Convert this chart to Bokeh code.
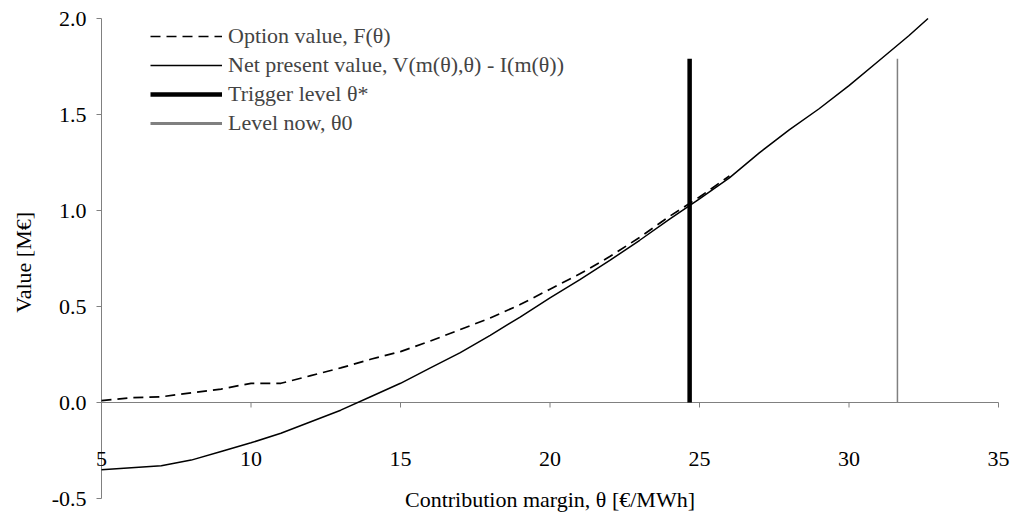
import math
from bokeh.plotting import figure
from bokeh.models import Legend, LegendItem, Range1d
from bokeh.core.properties import value
from bokeh.embed import file_html
from bokeh.resources import INLINE

# ---- data ----
theta_npv = [5, 6, 7, 8, 9, 10, 11, 12, 13, 14, 15, 16, 17, 18, 19, 20, 21, 22, 23, 24,
             25, 26, 27, 28, 29, 30, 31, 32, 33]
npv = [-0.35, -0.34, -0.33, -0.30, -0.255, -0.21, -0.16, -0.10, -0.04, 0.03, 0.10, 0.18,
       0.26, 0.35, 0.445, 0.545, 0.64, 0.74, 0.845, 0.955, 1.06, 1.17, 1.30, 1.42, 1.53,
       1.65, 1.78, 1.91, 2.05]
theta_opt = [5, 6, 7, 8, 9, 10, 11, 12, 13, 14, 15, 16, 17, 18, 19, 20, 21, 22, 23, 24, 25, 26]
option = [0.01, 0.025, 0.03, 0.05, 0.07, 0.10, 0.10, 0.14, 0.18, 0.225, 0.265, 0.32, 0.38,
          0.44, 0.51, 0.59, 0.67, 0.76, 0.86, 0.97, 1.07, 1.18]
theta_star = 24.67
theta_now = 31.62
marker_top = 1.79
x_ticks = [5, 10, 15, 20, 25, 30, 35]
x_tick_labels = ["5", "10", "15", "20", "25", "30", "35"]
y_ticks = [-0.5, 0.0, 0.5, 1.0, 1.5, 2.0]
y_tick_labels = ["-0.5", "0.0", "0.5", "1.0", "1.5", "2.0"]
series_names = ["Option value, F(\u03b8)",
                "Net present value, V(m(\u03b8),\u03b8) - I(m(\u03b8))",
                "Trigger level \u03b8*",
                "Level now, \u03b80"]
x_title = "Contribution margin, \u03b8 [\u20ac/MWh]"
y_title = "Value [M\u20ac]"

FONT = "Liberation Serif"
FS = "22px"
AXIS_GRAY = "#808080"

# ---- layout: the plotting area spans the whole canvas, axes are drawn by hand ----
W, H = 1010, 512
X0, X1 = 5, 35          # axis extent (data)
Y0, Y1 = -0.5, 2.0
PX_L, PX_R = 101, 998   # pixel positions of X0, X1
PX_T, PX_B = 18, 498    # pixel positions of Y1, Y0
sx = (PX_R - PX_L) / (X1 - X0)
sy = (PX_B - PX_T) / (Y1 - Y0)


def clip_top(xs, ys, top):
    """Cut a polyline where it leaves the plot area through the top edge."""
    cx, cy = [], []
    for i, (xv, yv) in enumerate(zip(xs, ys)):
        if yv <= top:
            cx.append(xv)
            cy.append(yv)
        else:
            if i > 0 and ys[i - 1] < top:
                t = (top - ys[i - 1]) / (yv - ys[i - 1])
                cx.append(xs[i - 1] + t * (xv - xs[i - 1]))
                cy.append(top)
            break
    return cx, cy


p = figure(width=W, height=H,
           x_range=Range1d(X0 - PX_L / sx, X0 + (W - PX_L) / sx),
           y_range=Range1d(Y1 - (H - PX_T) / sy, Y1 + PX_T / sy),
           output_backend="svg", toolbar_location=None,
           x_axis_type=None, y_axis_type=None,
           min_border_left=0, min_border_right=0, min_border_top=0, min_border_bottom=0)
p.outline_line_color = None
p.grid.visible = False
p.background_fill_color = "white"
p.border_fill_color = "white"

txt = dict(text_font=value(FONT), text_font_size=FS, text_color="black")

# y axis
p.segment(x0=[X0], y0=[Y0], x1=[X0], y1=[Y1], line_color=AXIS_GRAY, line_width=1)
p.segment(x0=[X0 - 5 / sx] * len(y_ticks), y0=y_ticks, x1=[X0] * len(y_ticks), y1=y_ticks,
          line_color=AXIS_GRAY, line_width=1)
p.text(x=[X0 - 15 / sx] * len(y_ticks), y=y_ticks, text=y_tick_labels,
       text_align="right", text_baseline="middle", **txt)
p.text(x=[X0 - 78 / sx], y=[0.73], text=[y_title], angle=math.pi / 2,
       text_align="center", text_baseline="middle", **txt)

# x axis at y = 0
p.segment(x0=[X0], y0=[0], x1=[X1], y1=[0], line_color=AXIS_GRAY, line_width=1)
p.segment(x0=x_ticks, y0=[0] * len(x_ticks), x1=x_ticks, y1=[-5 / sy] * len(x_ticks),
          line_color=AXIS_GRAY, line_width=1)
p.text(x=x_ticks, y=[-56 / sy] * len(x_ticks), text=x_tick_labels,
       text_align="center", text_baseline="middle", **txt)
p.text(x=[(X0 + X1) / 2], y=[-97 / sy], text=[x_title],
       text_align="center", text_baseline="middle", **txt)

# series
npv_x, npv_y = clip_top(theta_npv, npv, Y1)
r_opt = p.line(theta_opt, option, line_color="black", line_width=1.7, line_dash="10 6")
r_npv = p.line(npv_x, npv_y, line_color="black", line_width=1.5)
r_star = p.segment(x0=[theta_star], y0=[0], x1=[theta_star], y1=[marker_top],
                   line_color="black", line_width=4.5)
p.segment(x0=[theta_now], y0=[0], x1=[theta_now], y1=[marker_top],
          line_color=AXIS_GRAY, line_width=1.5)
# legend swatch for the "level now" marker (drawn thicker in the key, as in the reference)
nan = float("nan")
r_now_key = p.line(x=[nan], y=[nan], line_color=AXIS_GRAY, line_width=3)

ROW, GAP = 24, 3
legend_h = 4 * ROW + 3 * GAP
legend = Legend(items=[LegendItem(label=n, renderers=[r]) for n, r in
                       zip(series_names, [r_opt, r_npv, r_star, r_now_key])],
                location=(150, H - (43 - ROW // 2) - legend_h), orientation="vertical")
legend.border_line_color = None
legend.background_fill_alpha = 0
legend.padding = 0
legend.margin = 0
legend.spacing = GAP
legend.glyph_width = 72
legend.glyph_height = ROW
legend.label_height = ROW
legend.label_standoff = 6
legend.label_text_font = FONT
legend.label_text_font_size = FS
legend.label_text_baseline = "middle"
p.add_layout(legend)

open("out.html", "w").write(file_html(p, INLINE))
